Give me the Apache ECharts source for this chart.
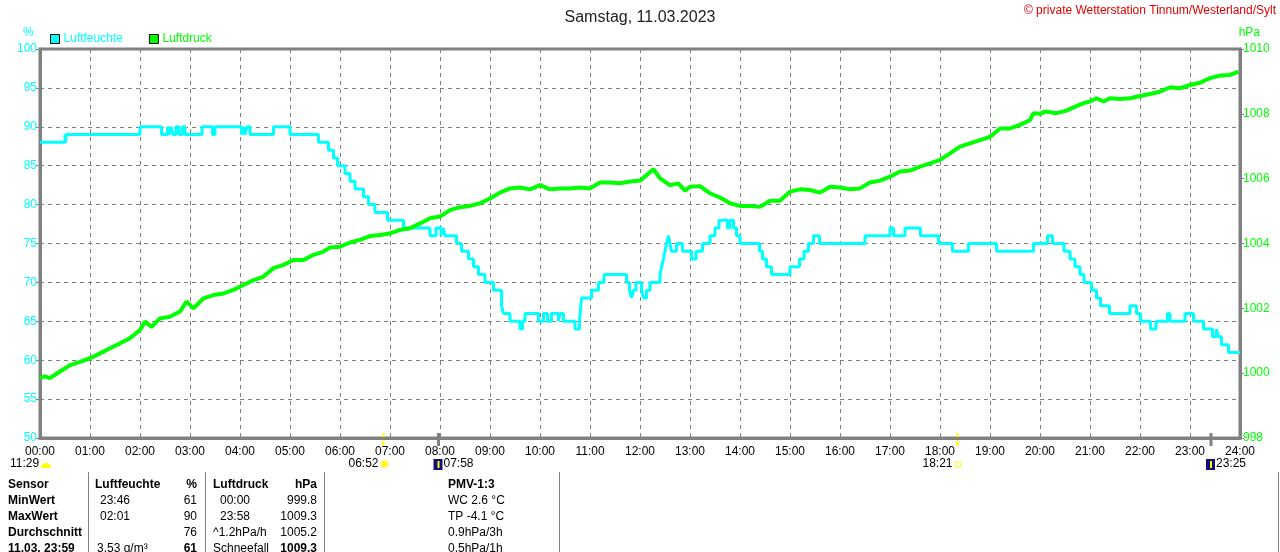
<!DOCTYPE html>
<html>
<head>
<meta charset="utf-8">
<script src="https://cdn.jsdelivr.net/npm/echarts@6/dist/echarts.min.js"></script>
<style>
  html, body { margin: 0; padding: 0; background: #fff; }
  #main { width: 1280px; height: 552px; }
</style>
</head>
<body>
<div id="main"></div>
<script>
// Luftfeuchte (%) - Stufen: ab Zeitpunkt (h) gilt Wert
var humTimes = [0, 0.5, 0.51, 0.52, 2.0, 2.43, 2.55, 2.58, 2.62, 2.66, 2.72, 2.78, 2.85, 2.9, 3.24, 3.45, 3.5, 4.03, 4.07, 4.1, 4.14, 4.2, 4.67, 5.0, 5.57, 5.77, 5.87, 5.95,
  6.1, 6.2, 6.3, 6.47, 6.57, 6.7, 6.95, 7.27, 7.8, 7.92, 8.02, 8.06, 8.1, 8.33, 8.43, 8.57, 8.67, 8.77, 8.9, 9.07, 9.23, 9.27, 9.4, 9.6, 9.65, 9.7, 9.97,
  10.07, 10.15, 10.23, 10.37, 10.4, 10.47, 10.7, 10.79, 10.83, 11.03, 11.17, 11.28, 11.73, 11.79, 11.83, 11.87, 11.92, 12.03, 12.07, 12.13, 12.2,
  12.4, 12.43, 12.47, 12.5, 12.53, 12.57, 12.6, 12.63, 12.73, 12.85, 13.03, 13.12, 13.25, 13.4, 13.5, 13.58, 13.75, 13.8, 13.87, 13.93, 14.0,
  14.39, 14.45, 14.53, 14.63, 15.0, 15.19, 15.28, 15.37, 15.47, 15.59, 16.5, 17.0, 17.07, 17.3, 17.61, 17.97, 18.25, 18.57, 19.13, 19.87,
  20.15, 20.25, 20.48, 20.6, 20.7, 20.8, 20.88, 21.03, 21.13, 21.21, 21.39, 21.8, 21.93, 22.01, 22.21, 22.32, 22.55, 22.6, 22.9, 23.07,
  23.27, 23.45, 23.53, 23.57, 23.63, 23.77, 24];
var humValues = [88, 89, 88, 89, 90, 89, 90, 89, 90, 89, 90, 89, 90, 89, 90, 89, 90, 89, 90, 89, 90, 89, 90, 89, 88, 87, 86, 85,
  84, 83, 82, 81, 80, 79, 78, 77, 76, 77, 76, 77, 76, 75, 74, 73, 72, 71, 70, 69, 67, 66, 65, 64, 65, 66, 65,
  66, 65, 66, 65, 66, 65, 64, 65, 68, 69, 70, 71, 70, 69, 68, 69, 70, 69, 68, 69, 70,
  71, 72, 73, 74, 75, 76, 75, 74, 75, 74, 73, 74, 75, 76, 77, 78, 77, 78, 77, 76, 75,
  74, 73, 72, 71, 72, 73, 74, 75, 76, 75, 76, 77, 76, 77, 76, 75, 74, 75, 74, 75,
  76, 75, 74, 73, 72, 71, 70, 69, 68, 67, 66, 67, 66, 65, 64, 65, 66, 65, 66, 65,
  64, 63, 64, 63, 62, 61, 61];

// Luftdruck (hPa)
var pressTimes = [0, 0.1, 0.2, 0.3, 0.4, 0.6, 0.8, 1.0, 1.2, 1.4, 1.6, 1.8, 2.0, 2.1, 2.23, 2.4, 2.6, 2.8, 2.93, 3.07, 3.27, 3.47, 3.67, 3.87,
  4.07, 4.27, 4.47, 4.67, 4.87, 5.07, 5.27, 5.47, 5.67, 5.8, 6.0, 6.2, 6.4, 6.6, 6.8, 7.0, 7.2, 7.4, 7.6, 7.8, 8.0, 8.2, 8.4, 8.6, 8.8,
  9.0, 9.2, 9.4, 9.6, 9.8, 10.0, 10.2, 10.4, 10.6, 10.8, 11.0, 11.2, 11.4, 11.6, 11.8, 12.0, 12.17, 12.27, 12.4, 12.6, 12.77, 12.9,
  13.0, 13.2, 13.4, 13.6, 13.8, 14.0, 14.2, 14.4, 14.6, 14.8, 15.0, 15.2, 15.4, 15.6, 15.8, 16.0, 16.2, 16.4, 16.6, 16.8, 17.0, 17.2,
  17.4, 17.6, 17.8, 18.0, 18.2, 18.4, 18.6, 18.8, 19.0, 19.2, 19.4, 19.6, 19.8, 19.87, 20.0, 20.1, 20.33, 20.53, 20.67, 20.87, 21.0,
  21.13, 21.27, 21.4, 21.6, 21.8, 22.0, 22.2, 22.4, 22.6, 22.8, 23.0, 23.2, 23.4, 23.6, 23.8, 23.97];
var pressValues = [999.85, 999.9, 999.85, 999.95, 1000.05, 1000.25, 1000.35, 1000.46, 1000.61, 1000.77, 1000.92, 1001.08, 1001.33, 1001.59, 1001.43, 1001.69, 1001.74, 1001.9, 1002.21, 1002.0, 1002.31, 1002.41, 1002.46, 1002.57,
  1002.72, 1002.87, 1002.98, 1003.24, 1003.34, 1003.49, 1003.49, 1003.65, 1003.75, 1003.88, 1003.9, 1004.03, 1004.11, 1004.23, 1004.26, 1004.31, 1004.42, 1004.47, 1004.62, 1004.78, 1004.83, 1005.03, 1005.12, 1005.16, 1005.24,
  1005.39, 1005.57, 1005.7, 1005.73, 1005.67, 1005.8, 1005.67, 1005.7, 1005.7, 1005.73, 1005.7, 1005.88, 1005.88, 1005.86, 1005.91, 1005.94, 1006.16, 1006.29, 1006.01, 1005.8, 1005.85, 1005.63,
  1005.75, 1005.77, 1005.55, 1005.42, 1005.24, 1005.16, 1005.16, 1005.13, 1005.32, 1005.32, 1005.6, 1005.67, 1005.65, 1005.57, 1005.75, 1005.73, 1005.67, 1005.7, 1005.88, 1005.94, 1006.06, 1006.22,
  1006.25, 1006.37, 1006.47, 1006.58, 1006.78, 1006.99, 1007.09, 1007.19, 1007.29, 1007.55, 1007.55, 1007.66, 1007.81, 1008.02, 1008.0, 1008.07, 1008.02, 1008.1, 1008.2, 1008.33, 1008.38,
  1008.48, 1008.38, 1008.48, 1008.46, 1008.48, 1008.55, 1008.61, 1008.68, 1008.82, 1008.79, 1008.89, 1008.96, 1009.1, 1009.18, 1009.2, 1009.3];

// Sonne / Mond unter der Zeitachse
var events = [
  { t: 6.87, label: '06:52', kind: 'sunrise' },
  { t: 7.97, label: '07:58', kind: 'moonset' },
  { t: 18.35, label: '18:21', kind: 'sunset' },
  { t: 23.42, label: '23:25', kind: 'moonrise' }
];

// Tabelle unten
var tableRows = [
  ['Sensor', 'Luftfeuchte', '%', 'Luftdruck', 'hPa', 'PMV-1:3'],
  ['MinWert', '23:46', '61', '00:00', '999.8', 'WC 2.6 °C'],
  ['MaxWert', '02:01', '90', '23:58', '1009.3', 'TP -4.1 °C'],
  ['Durchschnitt', '', '76', '^1.2hPa/h', '1005.2', '0.9hPa/3h'],
  ['11.03. 23:59', '3.53 g/m³', '61', 'Schneefall', '1009.3', '0.5hPa/1h']
];

var FONT = 'Liberation Sans, Arial, sans-serif';
var CYAN = '#00ffff';
var GREEN = '#00ff00';
var GRAY = '#808080';

var dom = document.getElementById('main');
var myChart = echarts.init(dom, null, { renderer: 'canvas' });

function pad(n) { return (n < 10 ? '0' : '') + n; }

var humData = humTimes.map(function (t, i) { return [t, humValues[i]]; });
var pressData = pressTimes.map(function (t, i) { return [t, pressValues[i]]; });

var option = {
  backgroundColor: '#fff',
  animation: false,
  textStyle: { fontFamily: FONT },
  title: {
    text: 'Samstag, 11.03.2023',
    left: 'center',
    top: 5,
    textStyle: { fontSize: 16, fontWeight: 'normal', color: '#222', fontFamily: FONT }
  },
  legend: {
    left: 50,
    top: 33,
    padding: 0,
    itemWidth: 9,
    itemHeight: 9,
    itemGap: 26,
    icon: 'rect',
    selectedMode: false,
    textStyle: { fontSize: 12, fontFamily: FONT, padding: [1, 0, 0, -1] },
    data: [
      { name: 'Luftfeuchte', textStyle: { color: CYAN }, itemStyle: { color: CYAN, borderColor: '#000', borderWidth: 1 } },
      { name: 'Luftdruck', textStyle: { color: GREEN }, itemStyle: { color: GREEN, borderColor: '#000', borderWidth: 1 } }
    ]
  },
  grid: {
    left: 40, right: 40, top: 49, bottom: 114,
    show: true, borderColor: GRAY, borderWidth: 3, backgroundColor: '#fff'
  },
  xAxis: {
    type: 'value',
    min: 0, max: 24, interval: 1,
    axisLine: { show: true, lineStyle: { color: GRAY, width: 3 } },
    axisTick: { show: false },
    splitLine: { show: true, lineStyle: { color: GRAY, type: [4, 4], width: 1 } },
    axisLabel: {
      color: '#000', fontSize: 12, fontFamily: FONT, margin: 8,
      formatter: function (v) { return pad(v) + ':00'; }
    }
  },
  yAxis: [
    {
      type: 'value', position: 'left',
      min: 50, max: 100, interval: 5,
      axisLine: { show: true, lineStyle: { color: GRAY, width: 3 } },
      axisTick: { show: true, length: 4, lineStyle: { color: GRAY, width: 1 } },
      splitLine: { show: true, lineStyle: { color: GRAY, type: [4, 4], width: 1 } },
      axisLabel: { color: CYAN, fontSize: 12, fontFamily: FONT, margin: 3 }
    },
    {
      type: 'value', position: 'right',
      min: 998, max: 1010, interval: 2,
      axisLine: { show: true, lineStyle: { color: GRAY, width: 3 } },
      axisTick: { show: true, length: 4, lineStyle: { color: GRAY, width: 1 } },
      splitLine: { show: false },
      axisLabel: {
        color: GREEN, fontSize: 12, fontFamily: FONT, margin: 3,
        formatter: function (v) { return String(v); }
      }
    }
  ],
  series: [
    {
      name: 'Luftfeuchte', type: 'line', yAxisIndex: 0,
      step: 'end', symbol: 'none',
      lineStyle: { color: CYAN, width: 3 },
      itemStyle: { color: CYAN },
      data: humData, z: 3
    },
    {
      name: 'Luftdruck', type: 'line', yAxisIndex: 1,
      symbol: 'none',
      lineStyle: { color: GREEN, width: 4 },
      itemStyle: { color: GREEN },
      data: pressData, z: 4
    }
  ]
};

myChart.setOption(option);

// Zusatzgrafik: Einheiten, Copyright, Sonne/Mond, Tabelle
var g = [];
g.push({ type: 'text', left: 23, top: 27, style: { text: '%', fill: CYAN, font: '12px ' + FONT } });
g.push({ type: 'text', right: 20, top: 27, style: { text: 'hPa', fill: GREEN, font: '12px ' + FONT } });
g.push({ type: 'text', right: 4, top: 5, style: { text: '© private Wetterstation Tinnum/Westerland/Sylt', fill: '#e00000', font: '12px ' + FONT } });

var axisY = 438;
var rowY = 464;
// Mondaufgang vom Vortag links
g.push({ type: 'text', x: 10, y: rowY, style: { text: '11:29', fill: '#000', font: '12px ' + FONT, verticalAlign: 'middle' } });
g.push({ type: 'sector', shape: { cx: 46, cy: rowY + 4, r0: 0, r: 5, startAngle: Math.PI, endAngle: 2 * Math.PI }, style: { fill: '#ffff00' } });

events.forEach(function (ev) {
  var px = myChart.convertToPixel({ xAxisIndex: 0 }, ev.t);
  var isSun = ev.kind === 'sunrise' || ev.kind === 'sunset';
  g.push({
    type: 'line',
    shape: { x1: px, y1: axisY - 5, x2: px, y2: axisY + 8 },
    style: { stroke: isSun ? '#ffff00' : GRAY, lineWidth: isSun ? 2 : 3 }
  });
  if (ev.kind === 'sunrise') {
    g.push({ type: 'text', x: px - 5, y: rowY, style: { text: ev.label, fill: '#000', font: '12px ' + FONT, align: 'right', verticalAlign: 'middle' } });
    g.push({ type: 'circle', shape: { cx: px + 1, cy: rowY, r: 3.5 }, style: { fill: '#ffff00', stroke: '#ffee88', lineWidth: 1.5 } });
  } else if (ev.kind === 'sunset') {
    g.push({ type: 'text', x: px - 5, y: rowY, style: { text: ev.label, fill: '#000', font: '12px ' + FONT, align: 'right', verticalAlign: 'middle' } });
    g.push({ type: 'rect', shape: { x: px - 2, y: rowY - 2, width: 5, height: 5 }, style: { fill: 'none', stroke: '#ffff00', lineWidth: 1 } });
  } else {
    g.push({ type: 'rect', shape: { x: px - 5, y: rowY - 5, width: 9, height: 11 }, style: { fill: '#10107a' } });
    g.push({ type: 'rect', shape: { x: px - 1, y: rowY - 3, width: 2, height: 7 }, style: { fill: '#ffff00' } });
    g.push({ type: 'text', x: px + 5, y: rowY, style: { text: ev.label, fill: '#000', font: '12px ' + FONT, verticalAlign: 'middle' } });
  }
});

// Tabelle
[88, 205, 324, 559, 1278].forEach(function (x) {
  g.push({ type: 'line', shape: { x1: x + 0.5, y1: 472, x2: x + 0.5, y2: 552 }, style: { stroke: GRAY, lineWidth: 1 } });
});
var colX = [8, 100, 197, 220, 317, 448];
var colAlign = ['left', 'left', 'right', 'left', 'right', 'left'];
var rowYs = [485, 501, 517, 533, 549];
tableRows.forEach(function (row, r) {
  row.forEach(function (cell, c) {
    var x = colX[c];
    if (r === 0 && c === 1) x = 95;
    if (r === 0 && c === 3) x = 213;
    if (r === 3 && c === 3) x = 213;
    if (r === 4 && c === 1) x = 97;
    if (r === 4 && c === 3) x = 213;
    var bold = r === 0 || c === 0 || (r === 4 && (c === 2 || c === 4));
    g.push({
      type: 'text', x: x, y: rowYs[r],
      style: {
        text: cell, fill: '#000', align: colAlign[c], verticalAlign: 'middle',
        font: (bold ? 'bold ' : '') + '12px ' + FONT
      }
    });
  });
});

myChart.setOption({ graphic: g });
</script>
</body>
</html>
